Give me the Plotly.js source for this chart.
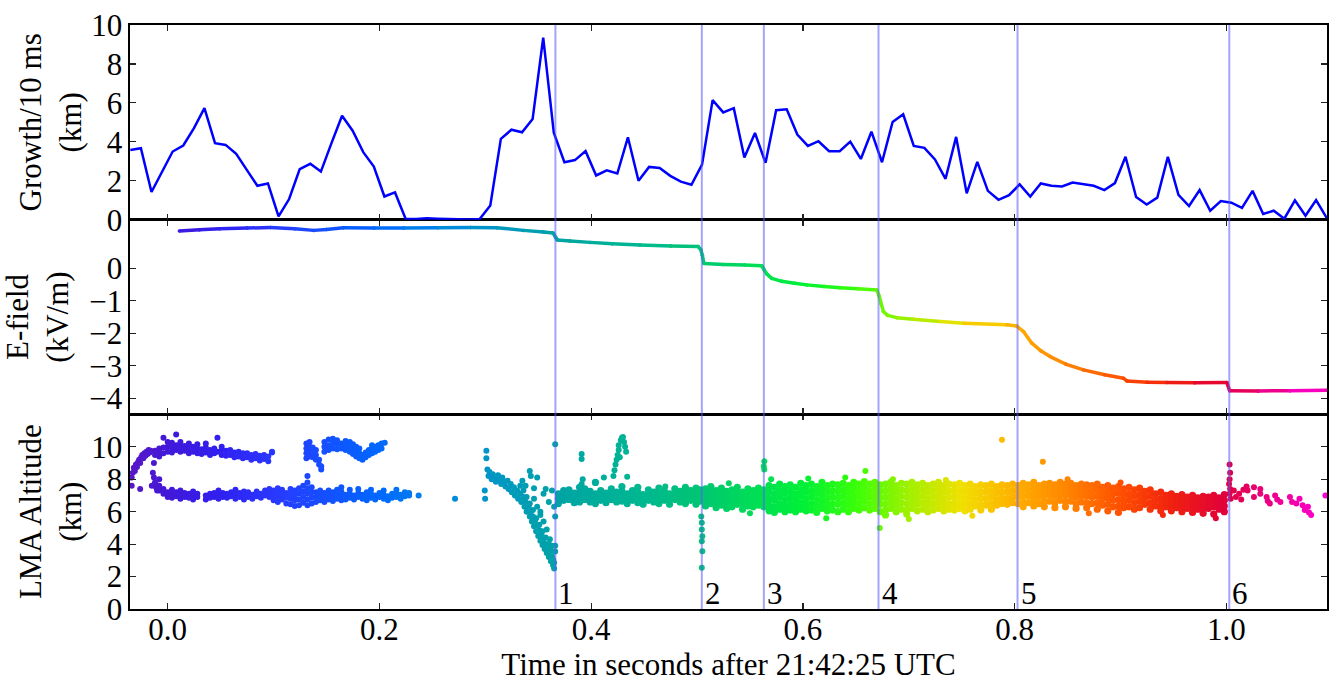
<!DOCTYPE html>
<html><head><meta charset="utf-8">
<script src="https://cdn.plot.ly/plotly-3.0.1.min.js"></script>
<style>html,body{margin:0;padding:0;background:#fff}#chart{width:1336px;height:682px}</style>
</head><body><div id="chart"></div>
<script>
// ---- Growth per 10 ms (km) ----
const growthTime = [
-0.0353,-0.0253,-0.0153,-0.0053,0.0047,0.0147,0.0247,0.0347,0.0447,0.0547,
0.0647,0.0747,0.0847,0.0947,0.1047,0.1147,0.1247,0.1347,0.1447,0.1547,
0.1647,0.1747,0.1847,0.1947,0.2047,0.2147,0.2247,0.2347,0.2447,0.2547,
0.2647,0.2747,0.2847,0.2947,0.3047,0.3147,0.3247,0.3347,0.3447,0.3547,
0.3647,0.3747,0.3847,0.3947,0.4047,0.4147,0.4247,0.4347,0.4447,0.4547,
0.4647,0.4747,0.4847,0.4947,0.5047,0.5147,0.5247,0.5347,0.5447,0.5547,
0.5647,0.5747,0.5847,0.5947,0.6047,0.6147,0.6247,0.6347,0.6447,0.6547,
0.6647,0.6747,0.6847,0.6947,0.7047,0.7147,0.7247,0.7347,0.7447,0.7547,
0.7647,0.7747,0.7847,0.7947,0.8047,0.8147,0.8247,0.8347,0.8447,0.8547,
0.8647,0.8747,0.8847,0.8947,0.9047,0.9147,0.9247,0.9347,0.9447,0.9547,
0.9647,0.9747,0.9847,0.9947,1.0047,1.0147,1.0247,1.0347,1.0447,1.0547,
1.0647,1.0747,1.0847,1.0947];
const growthKm = [
3.58,3.67,1.42,2.46,3.5,3.81,4.69,5.73,3.93,3.84,
3.38,2.56,1.74,1.86,0.17,1.06,2.6,2.87,2.47,3.93,
5.34,4.57,3.47,2.73,1.19,1.4,0.05,0.03,0.07,0.05,
0.03,0.02,0.01,0.03,0.73,4.15,4.62,4.49,5.17,9.35,
4.47,2.95,3.06,3.52,2.27,2.53,2.37,4.23,2.0,2.71,
2.65,2.25,1.95,1.79,2.83,6.14,5.51,5.73,3.19,4.45,
2.92,5.62,5.67,4.37,3.79,4.03,3.52,3.52,4.01,3.12,
4.52,2.95,5.02,5.41,3.79,3.69,3.09,2.1,4.25,1.35,
2.97,1.48,1.02,1.26,1.81,1.19,1.86,1.74,1.71,1.91,
1.84,1.74,1.52,1.88,3.23,1.16,0.78,1.13,3.23,1.28,
0.70,1.52,0.46,0.96,0.87,0.61,1.48,0.29,0.46,0.05,
0.99,0.2,1.01,0.09];

// ---- E-field (kV/m) ----
const efieldTime = [0.011,0.030,0.049,0.075,0.097,0.120,0.138,0.150,0.166,0.195,
0.223,0.255,0.286,0.311,0.336,0.355,0.364,0.3665,0.368,0.380,
0.399,0.420,0.446,0.475,0.501,0.5035,0.505,0.5065,0.525,0.545,
0.561,0.5635,0.566,0.5706,0.580,0.592,0.6037,0.620,0.635,0.652,
0.6698,0.672,0.674,0.676,0.680,0.6887,0.704,0.7296,0.752,0.7926,
0.802,0.8083,0.816,0.825,0.8335,0.848,0.865,0.885,0.9028,0.906,
0.925,0.9438,0.970,1.0004,1.003,1.030,1.060,1.095];
const efieldKVm = [1.15,1.19,1.22,1.24,1.26,1.22,1.17,1.20,1.25,1.24,
1.24,1.25,1.26,1.25,1.17,1.12,1.09,0.95,0.87,0.84,
0.80,0.76,0.72,0.69,0.67,0.58,0.40,0.15,0.12,0.10,
0.08,-0.05,-0.18,-0.31,-0.40,-0.46,-0.51,-0.56,-0.60,-0.63,
-0.67,-0.85,-1.10,-1.33,-1.45,-1.52,-1.57,-1.64,-1.69,-1.74,
-1.78,-1.95,-2.30,-2.55,-2.72,-2.95,-3.13,-3.28,-3.39,-3.47,
-3.51,-3.52,-3.53,-3.52,-3.77,-3.78,-3.77,-3.76];

// ---- LMA sources: [time, altitude] pairs ----
const lmaEarlySpike = [[-0.034,8.1],[-0.034,7.6],[-0.033,8.4],[-0.032,8.7],[-0.031,8.5],[-0.030,8.9],[-0.029,8.75],
[-0.028,9.05],[-0.027,9.2],[-0.026,9.0],[-0.026,7.4],[-0.025,9.35],[-0.024,9.5],[-0.023,9.3],[-0.022,9.6],
[-0.021,9.45],[-0.020,9.7],[-0.019,9.55],[-0.018,9.8],[-0.017,9.65],[-0.016,9.75],[-0.014,8.4],[-0.013,8.1],
[-0.012,7.8],[-0.015,7.6],[-0.011,7.5],[-0.013,9.0],[-0.010,7.3],[-0.009,7.6]];
// columns: [time, altitude, altitude, ...]
const lmaUpperEarly = [[-0.012,9.5,9.75],[-0.008,9.4,9.7,9.9],[-0.004,9.6,9.95,10.55],[0.000,9.7,10.0,10.3],
[0.004,9.65,9.95,10.25],[0.008,9.8,10.1,10.75],[0.012,9.7,10.0,10.3],[0.016,9.75,10.05],[0.020,9.6,9.9,10.2],
[0.024,9.7,10.0],[0.028,9.6,9.9,10.15],[0.032,9.55,9.85],[0.036,9.65,9.95,10.2],[0.040,9.5,9.8],[0.044,9.6,9.9],
[0.047,9.7,10.55],[0.051,9.5,9.8,10.0],[0.055,9.45,9.75],[0.059,9.5,9.8],[0.063,9.35,9.65],[0.067,9.4,9.7],
[0.071,9.3,9.6],[0.075,9.35,9.6],[0.079,9.2,9.5],[0.083,9.3,9.55],[0.087,9.15,9.45],[0.091,9.25,9.5],
[0.095,9.1,9.4],[0.0985,9.65,9.7]];
const lmaLowerEarly = [[-0.008,7.3,7.6,8.0],[-0.004,7.1,7.4],[0.000,6.9,7.2],[0.004,6.85,7.1,7.35],[0.008,6.95,7.2],
[0.012,6.8,7.05,7.3],[0.016,6.9,7.15],[0.020,6.85,7.1],[0.024,6.75,7.0,7.25],[0.028,6.9,7.1],[0.036,6.75,7.0],
[0.040,6.85,7.1],[0.044,6.9,7.15],[0.048,6.8,7.05,7.3],[0.052,6.9,7.15],[0.056,6.85,7.1],[0.060,6.95,7.2],
[0.064,6.8,7.05,7.35],[0.068,6.9,7.15],[0.072,6.75,7.0,7.25],[0.076,6.9,7.2],[0.080,6.8,7.05],[0.084,6.95,7.25],
[0.088,6.85,7.1],[0.092,7.0,7.3],[0.096,6.9,7.15,7.4],[0.100,6.7,7.0,7.3],[0.104,6.6,6.9,7.2,7.45],
[0.108,6.75,7.05,7.35],[0.112,6.5,6.85,7.15],[0.116,6.45,6.8,7.1,7.4],[0.120,6.35,6.7,7.0,7.3],
[0.124,6.4,6.75,7.1,7.45],[0.128,6.55,6.9,7.25,7.6],[0.132,6.4,6.75,7.1,7.45,7.8,8.2],[0.136,6.5,6.85,7.2,7.5],
[0.140,6.6,6.9,7.2],[0.144,6.7,7.0,7.3],[0.148,6.6,6.9,7.15],[0.152,6.75,7.05,7.3],[0.156,6.65,6.95,7.2],
[0.160,6.8,7.1,7.35],[0.164,6.7,7.0,7.25,7.5],[0.168,6.75,7.05],[0.172,6.85,7.1,7.35],[0.176,6.75,7.0],
[0.180,6.9,7.15,7.4],[0.184,6.8,7.05],[0.188,6.7,6.95,7.2],[0.192,6.85,7.1,7.35],[0.196,6.75,7.0],
[0.200,6.9,7.15],[0.204,6.8,7.05,7.3],[0.208,6.7,6.95],[0.212,6.85,7.1],[0.216,6.9,7.15,7.35],[0.220,6.8,7.05],
[0.224,6.95,7.2],[0.228,7.0,7.15],[0.237,7.0]];
const lmaUpperSecond = [[0.131,9.3,9.6,9.9,10.2],[0.134,9.4,9.7,10.0,10.3],[0.137,9.35,9.65,9.95],[0.140,9.2,9.5,9.8],
[0.143,8.9,9.2],[0.145,8.6,8.8],[0.148,9.7,10.0,10.3],[0.152,9.8,10.1,10.45],[0.156,9.9,10.2,10.5],
[0.160,9.85,10.15,10.4],[0.164,9.9,10.2],[0.168,9.8,10.1,10.35],[0.172,9.7,10.0,10.3],[0.175,9.55,9.85,10.15],
[0.178,9.4,9.7,10.0],[0.181,9.3,9.6,9.9],[0.184,9.2,9.5],[0.187,9.35,9.65],[0.190,9.5,9.8],[0.193,9.6,9.9,10.1],
[0.196,9.7,10.0],[0.199,9.8,10.1],[0.202,9.9,10.2],[0.205,10.25]];
const lmaDescent = [[0.2714,6.8],[0.2998,6.8],[0.2995,7.3],[0.301,9.75],[0.301,9.3],
[0.302,8.6],[0.303,8.2],[0.304,8.45],[0.306,8.0],[0.307,8.3],[0.309,8.1],[0.310,7.85],[0.312,8.25],[0.313,7.95],
[0.315,7.7],[0.316,8.1],[0.318,7.85],[0.319,7.55],[0.321,7.9],[0.322,7.4],[0.324,7.7],[0.325,7.2],[0.327,7.5],
[0.328,7.0],[0.330,7.3],[0.331,6.8],[0.333,7.1],[0.334,6.6],[0.336,6.9],[0.337,6.3],[0.338,6.6],[0.339,6.0],
[0.341,6.3],[0.342,5.7],[0.343,6.0],[0.344,5.4],[0.345,5.7],[0.346,5.1],[0.347,5.45],[0.348,4.8],[0.349,5.15],
[0.350,4.5],[0.351,4.85],[0.352,4.2],[0.353,4.55],[0.354,3.95],[0.355,4.3],[0.356,3.7],[0.357,4.0],[0.358,3.45],
[0.359,3.75],[0.360,3.2],[0.361,3.5],[0.362,2.95],[0.363,3.25],[0.364,2.7],[0.364,3.05],[0.365,2.5],[0.365,2.85],
[0.333,7.6],[0.336,7.3],[0.339,6.9],[0.342,6.5],[0.345,6.1],[0.348,5.6],[0.351,5.2],[0.354,4.8],[0.357,4.4],
[0.360,4.0],[0.362,3.6],[0.363,3.9],[0.361,4.3],[0.358,4.9],[0.355,5.4],[0.352,5.8],[0.349,6.3],[0.346,6.8],
[0.342,8.5],[0.343,8.2],[0.346,7.45],[0.349,8.1],[0.352,6.0],[0.355,7.1],[0.357,7.4],[0.360,6.6],[0.363,7.3],
[0.365,6.3],[0.366,5.7],[0.366,10.16],[0.366,3.9],[0.366,3.55],[0.338,7.6],[0.335,7.9]];
const lmaMainBand = [[0.369,7.1,6.8,6.5],[0.374,7.3,6.95,6.7],[0.379,7.0,6.75,7.35],[0.384,7.15,6.85,6.55],
[0.389,7.2,6.9,6.6,7.5],[0.394,7.05,6.75,7.4],[0.399,7.25,6.95,6.6],[0.404,7.1,6.8,6.5,7.8],[0.409,7.3,7.0,6.7],
[0.414,7.15,6.85,6.55],[0.419,7.4,7.05,6.75],[0.424,7.2,6.9,6.6],[0.429,7.25,6.95,6.65,7.55],[0.434,7.1,6.8,6.5],
[0.439,7.3,7.0,6.7],[0.444,7.2,6.9,6.55,7.5],[0.449,7.05,6.75,6.45],[0.454,7.35,7.0,6.7],[0.459,7.2,6.9,6.6],
[0.464,7.15,6.85,6.5,7.45],[0.469,7.3,7.0,6.7],[0.474,7.1,6.8,6.45],[0.479,7.4,7.05,6.75],[0.484,7.25,6.95,6.6],
[0.489,7.2,6.85,6.5,7.5],[0.494,7.3,7.0,6.7],[0.499,7.15,6.8,6.45,7.45],[0.503,7.35,7.0,6.65],
[0.508,7.4,7.05,6.7,6.35],[0.513,7.2,6.85,6.5,7.55],[0.518,7.3,6.95,6.6,6.25],[0.523,7.45,7.1,6.75,6.4],
[0.528,7.25,6.9,6.55,6.2],[0.533,7.35,7.0,6.65,6.3],[0.538,7.5,7.15,6.8,6.45],[0.543,7.2,6.85,6.5,6.15],
[0.548,7.4,7.05,6.7,6.35],[0.553,7.3,6.95,6.6,6.3],[0.558,7.45,7.1,6.75,6.4],[0.563,7.35,7.0,6.65,6.3],
[0.568,7.6,7.2,6.8,6.4,6.05],[0.573,7.5,7.1,6.7,6.3,5.95],[0.578,7.7,7.3,6.9,6.5,6.15],[0.583,7.55,7.15,6.75,6.35,6.0],
[0.588,7.65,7.25,6.85,6.45,6.1],[0.593,7.5,7.1,6.7,6.35,6.0],[0.598,7.75,7.35,6.95,6.55,6.15],
[0.603,7.6,7.2,6.8,6.4,6.05],[0.608,7.7,7.3,6.9,6.5,6.1],[0.613,7.55,7.15,6.75,6.35,5.95],[0.618,7.8,7.4,7.0,6.6,6.2],
[0.623,7.6,7.2,6.8,6.4,6.05],[0.628,7.7,7.3,6.9,6.5,6.1],[0.633,7.65,7.25,6.85,6.45,6.0],[0.638,7.75,7.35,6.95,6.55,6.15],
[0.643,7.6,7.2,6.8,6.4,6.0],[0.648,7.8,7.4,7.0,6.6,6.2],[0.653,7.7,7.3,6.9,6.5,6.1],[0.658,7.85,7.45,7.05,6.65,6.25],
[0.663,7.7,7.3,6.9,6.5,6.1],[0.668,7.8,7.4,7.0,6.6,6.2],[0.673,7.65,7.25,6.85,6.45,6.0],[0.678,7.7,7.3,6.9,6.5,6.1,5.8],
[0.683,7.8,7.4,7.0,6.6,6.2],[0.688,7.6,7.2,6.8,6.4,6.0],[0.693,7.75,7.35,6.95,6.55,6.15],[0.698,7.7,7.3,6.9,6.5,6.1,5.85],
[0.703,7.8,7.4,7.0,6.6,6.2],[0.708,7.65,7.25,6.85,6.45,6.05],[0.713,7.75,7.35,6.95,6.55,6.15],[0.718,7.6,7.2,6.8,6.4,6.0],
[0.723,7.7,7.3,6.9,6.5,6.1],[0.728,7.8,7.4,7.0,6.6,6.2],[0.733,7.6,7.2,6.8,6.4,6.05],[0.738,7.7,7.3,6.9,6.5,6.15],
[0.743,7.65,7.25,6.85,6.45,6.1],[0.748,7.75,7.35,6.95,6.55,6.2],[0.753,7.6,7.2,6.8,6.4,6.05],[0.758,7.7,7.3,6.9,6.5,6.15],
[0.763,7.55,7.15,6.75,6.35],[0.768,7.65,7.25,6.85,6.45,6.1],[0.773,7.6,7.2,6.8,6.4],[0.778,7.7,7.3,6.9,6.5,6.15],
[0.783,7.55,7.15,6.75,6.4],[0.788,7.65,7.25,6.85,6.5],[0.793,7.6,7.2,6.8,6.45],[0.798,7.7,7.3,6.9,6.55],
[0.803,7.6,7.25,6.9,6.5],[0.808,7.75,7.4,7.0,6.6,6.3],[0.813,7.65,7.3,6.95,6.55],[0.818,7.8,7.45,7.05,6.7,6.35],
[0.823,7.6,7.25,6.9,6.5],[0.828,7.7,7.35,7.0,6.6,6.3],[0.833,7.75,7.4,7.05,6.65],[0.838,7.65,7.3,6.95,6.55,6.25],
[0.843,7.8,7.45,7.1,6.7],[0.848,7.7,7.35,7.0,6.6,6.3],[0.853,7.75,7.4,7.05,6.65],[0.858,7.6,7.25,6.9,6.5,6.2],
[0.863,7.7,7.35,7.0,6.6],[0.868,7.65,7.3,6.95,6.55,6.25],[0.873,7.6,7.25,6.9,6.5],[0.878,7.7,7.35,6.95,6.55,6.15],
[0.883,7.5,7.15,6.8,6.4],[0.888,7.6,7.2,6.85,6.45,6.05],[0.893,7.45,7.1,6.7,6.3],[0.898,7.55,7.15,6.75,6.35,5.95],
[0.903,7.4,7.0,6.6,6.25],[0.908,7.5,7.1,6.7,6.3],[0.913,7.35,6.95,6.55,6.15],[0.918,7.45,7.05,6.65,6.25],
[0.923,7.25,6.85,6.45],[0.928,7.35,6.95,6.55,6.15],[0.933,7.1,6.7,6.35],[0.938,7.2,6.8,6.4,6.05],[0.943,7.0,6.65,6.3],
[0.948,7.1,6.75,6.4,6.05],[0.953,6.95,6.6,6.25],[0.958,7.05,6.7,6.35,6.0],[0.963,6.9,6.55,6.2],[0.968,7.0,6.65,6.3,5.95],
[0.973,6.85,6.5,6.15],[0.978,6.95,6.6,6.25,5.9],[0.983,6.9,6.55,6.2],[0.988,7.0,6.65,6.3,5.85],[0.993,6.85,6.5,6.15],
[0.998,7.05,6.7,6.35,6.0]];
const lmaOutliers = [[0.391,9.55],[0.391,9.25],[0.392,8.0],[0.391,7.7],[0.390,7.45],[0.404,7.8],[0.412,8.1],
[0.421,8.2],[0.422,8.55],[0.423,8.9],[0.424,9.2],[0.425,9.5],[0.426,9.8],[0.426,10.1],[0.428,10.4],[0.430,10.6],
[0.431,10.3],[0.432,10.0],[0.433,9.7],[0.434,8.15],[0.429,10.55],[0.427,9.35],
[0.5045,5.32],[0.5045,4.9],[0.505,4.49],[0.5045,4.18],[0.505,3.56],[0.5045,2.54],[0.504,5.7],
[0.5635,9.1],[0.563,8.8],[0.5635,8.6],[0.659,8.5],[0.6725,5.0],[0.788,10.43],[0.8266,9.07],
[0.605,8.05],[0.622,5.6],[0.640,8.1],[0.685,8.0],[0.700,5.55],[0.735,7.95],[0.760,5.75],[0.850,8.0],
[0.870,5.9],[0.900,7.8],[0.940,5.8],[0.990,5.6],[0.470,7.55],[0.530,7.75],[0.550,5.9],[0.570,8.0]];
const lmaLate = [[1.003,8.9],[1.0035,8.4],[1.003,8.0],[1.0025,7.7],[1.0035,7.4],[1.003,7.1],[1.004,6.8],
[1.007,7.3],[1.009,6.9],[1.012,7.1],[1.014,6.75],[1.016,7.35],[1.019,7.55],[1.020,7.3],[1.026,7.5],[1.026,6.9],
[1.032,7.4],[1.032,7.1],[1.038,6.9],[1.039,6.65],[1.041,6.5],[1.046,7.0],[1.048,6.75],[1.051,6.6],[1.060,6.9],
[1.062,6.6],[1.066,6.5],[1.069,6.8],[1.072,6.4],[1.074,6.1],[1.077,6.3],[1.078,5.95],[1.080,5.8],[1.0935,7.0]];

// ---- Return strokes ----
const strokeTimes = [0.3662,0.5045,0.5631,0.6714,0.8027,1.0027];
const strokeLabels = ['1','2','3','4','5','6'];

// ---- Time colour map ----
const cmapTimes = [-0.035,0.0,0.05,0.1,0.15,0.2,0.25,0.3,0.37,0.45,0.5,0.55,0.6,0.65,0.7,0.75,0.8,0.85,0.9,0.95,1.0,1.05,1.095];
const cmapColors = ['#5a18c8','#4218d8','#3020f0','#2a38ff','#1450ff','#0068ff','#0084e8','#0094c8','#00a4a4','#00b890',
'#00c474','#00dc58','#00f038','#38ff08','#a0f000','#f0e000','#ffb000','#ff8400','#ff5000','#f02010','#e0003c','#f00098','#ff00d8'];

function hexRgb(h){return [parseInt(h.substr(1,2),16),parseInt(h.substr(3,2),16),parseInt(h.substr(5,2),16)];}
function colorAt(t){
  const n=cmapTimes.length;
  if(t<=cmapTimes[0]) return cmapColors[0];
  if(t>=cmapTimes[n-1]) return cmapColors[n-1];
  for(let i=0;i<n-1;i++){
    if(t>=cmapTimes[i]&&t<=cmapTimes[i+1]){
      const f=(t-cmapTimes[i])/(cmapTimes[i+1]-cmapTimes[i]);
      const a=hexRgb(cmapColors[i]),b=hexRgb(cmapColors[i+1]);
      return 'rgb('+a.map((v,k)=>Math.round(v+(b[k]-v)*f)).join(',')+')';
    }
  }
  return cmapColors[n-1];
}
const tMin=cmapTimes[0], tMax=cmapTimes[cmapTimes.length-1];
const colorscale = cmapTimes.map((t,i)=>[(t-tMin)/(tMax-tMin), cmapColors[i]]);

function fromColumns(cols){const p=[];cols.forEach(c=>{for(let i=1;i<c.length;i++)p.push([c[0],c[i]]);});return p;}
const lmaSparse = [].concat(lmaEarlySpike, fromColumns(lmaUpperEarly), fromColumns(lmaLowerEarly),
  fromColumns(lmaUpperSecond), lmaDescent, lmaOutliers, lmaLate);
const lmaDense = fromColumns(lmaMainBand);

const traces = [];
traces.push({type:'scatter',mode:'lines',x:growthTime,y:growthKm,xaxis:'x3',yaxis:'y',
  line:{color:'#0000ff',width:2.5},hoverinfo:'skip',showlegend:false});
for(let i=0;i<efieldTime.length-1;i++){
  const c=colorAt((efieldTime[i]+efieldTime[i+1])/2);
  traces.push({type:'scatter',mode:'lines+markers',x:[efieldTime[i],efieldTime[i+1]],y:[efieldKVm[i],efieldKVm[i+1]],
    xaxis:'x2',yaxis:'y2',line:{color:c,width:3.5},marker:{color:c,size:3.5},hoverinfo:'skip',showlegend:false});
}
function lmaTrace(pts,size){
  return {type:'scatter',mode:'markers',x:pts.map(p=>p[0]),y:pts.map(p=>p[1]),xaxis:'x',yaxis:'y3',
    marker:{size:size,color:pts.map(p=>p[0]),colorscale:colorscale,cmin:tMin,cmax:tMax,line:{width:0}},
    hoverinfo:'skip',showlegend:false};
}
traces.push(lmaTrace(lmaDense,7.2));
traces.push(lmaTrace(lmaSparse,6));

const FONT='"Liberation Serif", "DejaVu Serif", serif';
const xRange=[-0.0356,1.095];
const common={showline:true,linecolor:'#000',linewidth:1.6,mirror:'ticks',ticks:'inside',ticklen:6,tickwidth:1.2,
  tickcolor:'#222',showgrid:false,zeroline:false};
const layout={
  width:1336,height:682,margin:{l:130,r:9,t:25,b:73},
  paper_bgcolor:'#fff',plot_bgcolor:'#fff',
  font:{family:FONT,size:31,color:'#000'},
  xaxis:Object.assign({},common,{domain:[0,1],anchor:'y3',range:xRange,tickvals:[0,0.2,0.4,0.6,0.8,1.0],
    ticktext:['0.0','0.2','0.4','0.6','0.8','1.0'],ticklabelstandoff:-8,
    title:{text:'Time in seconds after 21:42:25 UTC',font:{size:31},standoff:2}}),
  xaxis2:Object.assign({},common,{domain:[0,1],anchor:'y2',matches:'x',range:xRange,tickvals:[0,0.2,0.4,0.6,0.8,1.0],showticklabels:false}),
  xaxis3:Object.assign({},common,{domain:[0,1],anchor:'y',matches:'x',range:xRange,tickvals:[0,0.2,0.4,0.6,0.8,1.0],showticklabels:false}),
  yaxis:Object.assign({},common,{domain:[2/3,1],anchor:'x3',range:[0,10],tickvals:[0,2,4,6,8,10],
    title:{text:'Growth/10 ms<br>(km)',font:{size:31},standoff:0}}),
  yaxis2:Object.assign({},common,{domain:[1/3,2/3],anchor:'x2',range:[-4.5,1.5],tickvals:[-4,-3,-2,-1,0],
    title:{text:'E-field<br>(kV/m)',font:{size:31},standoff:20}}),
  yaxis3:Object.assign({},common,{domain:[0,1/3],anchor:'x',range:[0,12],tickvals:[0,2,4,6,8,10],
    title:{text:'LMA Altitude<br>(km)',font:{size:31},standoff:0}}),
  shapes:strokeTimes.map(t=>({type:'line',xref:'x',yref:'paper',x0:t,x1:t,y0:0,y1:1,layer:'above',
    line:{color:'rgba(90,90,255,0.55)',width:2}})),
  annotations:strokeTimes.map((t,i)=>({x:t,y:0,xref:'x',yref:'y3',text:strokeLabels[i],showarrow:false,
    xanchor:'left',yanchor:'bottom',xshift:1,yshift:-4,font:{size:31,color:'#000'}}))
};
Plotly.newPlot('chart',traces,layout,{displayModeBar:false,staticPlot:true});
</script></body></html>
